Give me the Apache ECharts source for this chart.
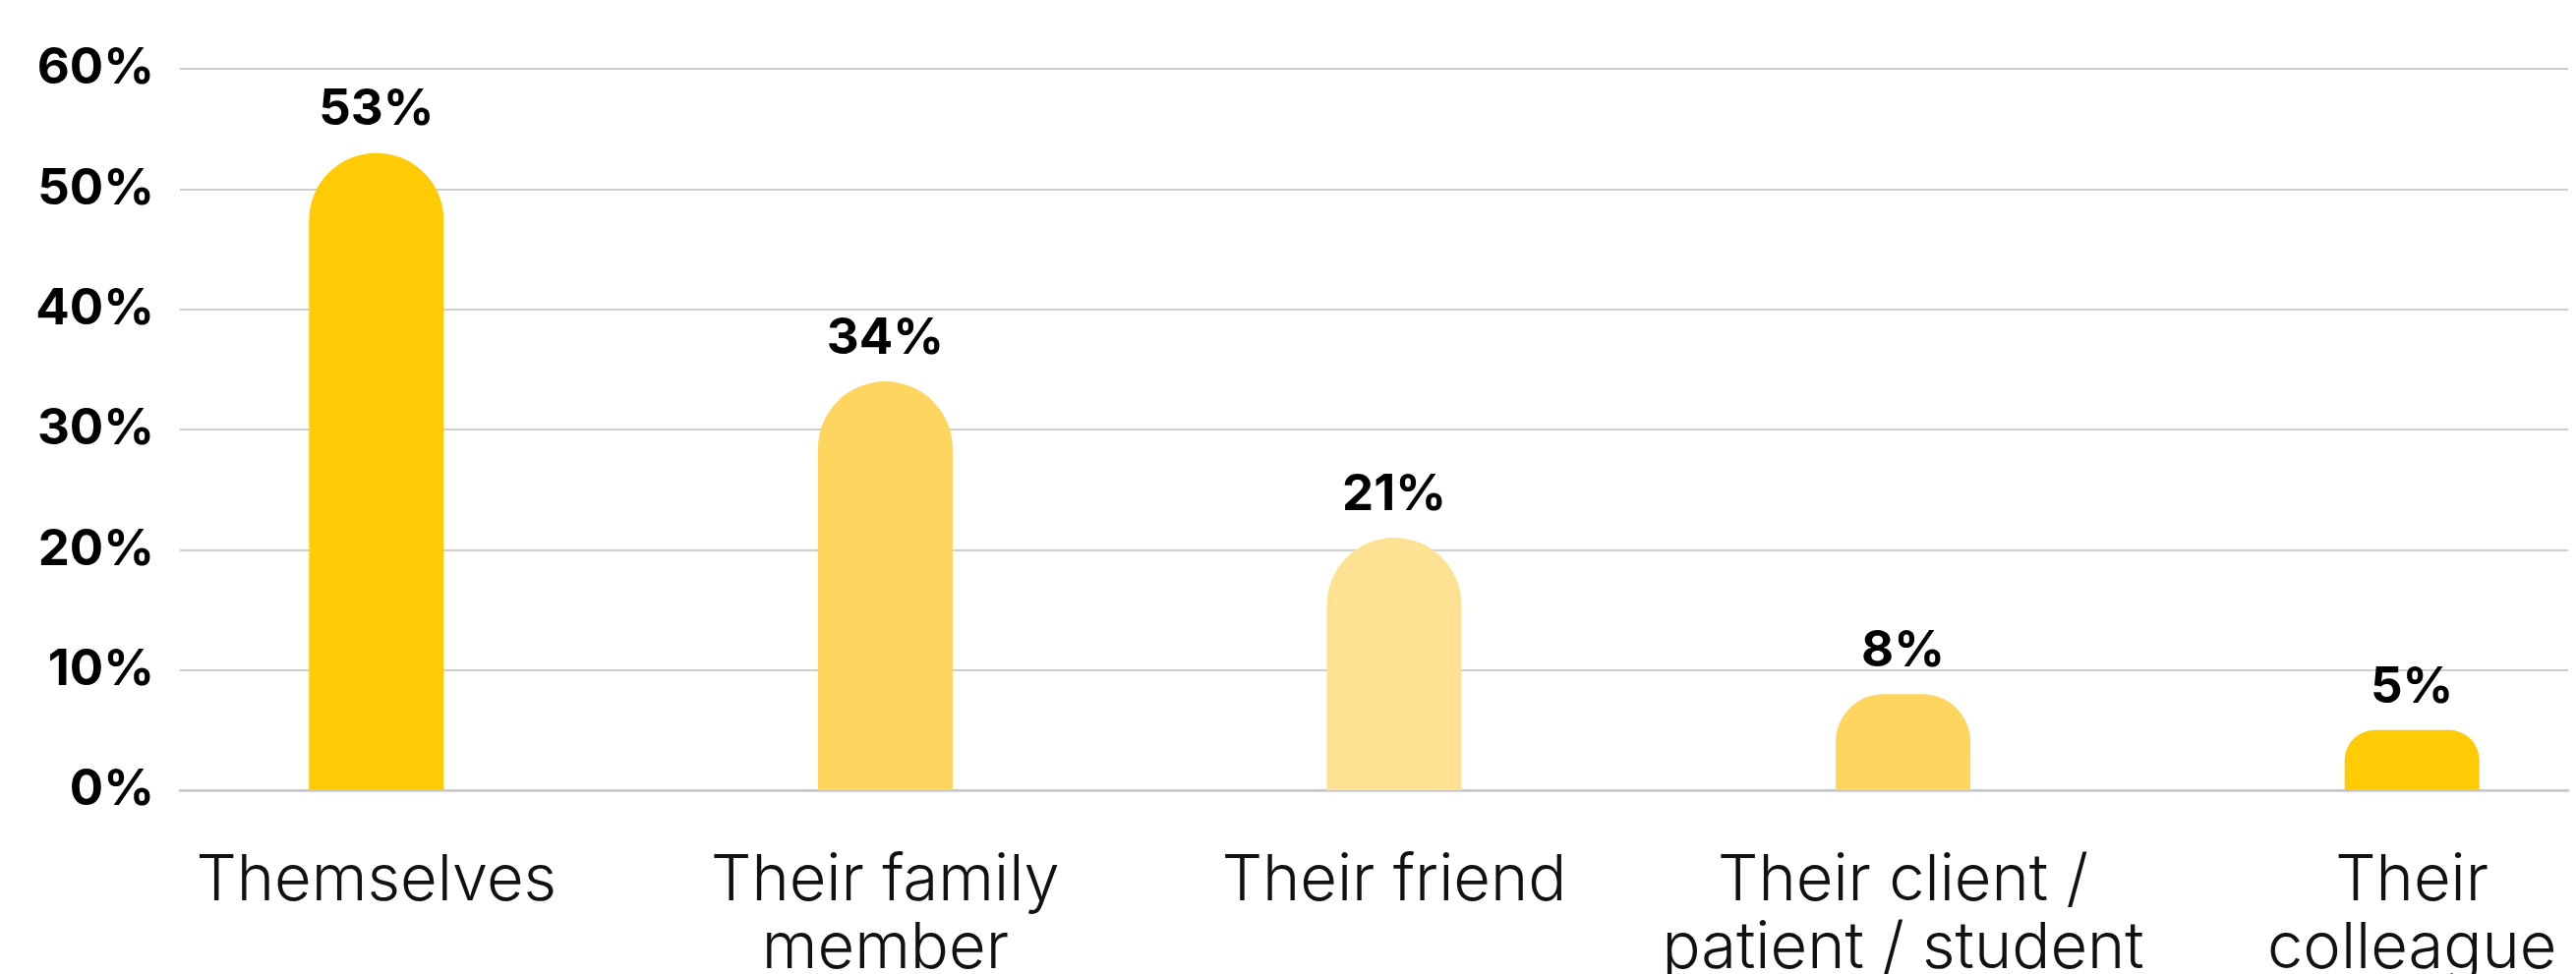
<!DOCTYPE html>
<html>
<head>
<meta charset="utf-8">
<title>Bar chart</title>
<script src="https://cdn.jsdelivr.net/npm/echarts@6/dist/echarts.min.js"></script>
<style>
  html, body { margin: 0; padding: 0; background: #fff; overflow: hidden; }
  /* the category bands run past the right edge of the page, so the canvas does too */
  #chart { width: 2720px; height: 991px; }
</style>
</head>
<body>
<div id="chart"></div>
<script>
const categories = [
  "Themselves",
  "Their family\nmember",
  "Their friend",
  "Their client /\npatient / student",
  "Their\ncolleague",
];
const shares = [53, 34, 21, 8, 5];
const barColors = ["#FFCB05", "#FED55F", "#FFE194", "#FED55F", "#FFCB05"];
const yTicks = [0, 10, 20, 30, 40, 50, 60];

// layout
const CHART_WIDTH = 2720;
const PLOT_TOP = 70;
const PLOT_BOTTOM = 187;
const PLOT_HEIGHT = 991 - PLOT_TOP - PLOT_BOTTOM;
const BAR_WIDTH = 137;
const Y_MAX = yTicks[yTicks.length - 1];
const pxPerUnit = PLOT_HEIGHT / Y_MAX;

const labelFont = "Inter, 'Noto Sans', sans-serif";

function capRadius(value) {
  const r = Math.min(BAR_WIDTH / 2, (value * pxPerUnit) / 2);
  return [r, r, 0, 0];
}

const chart = echarts.init(document.getElementById("chart"), null, { renderer: "canvas" });

chart.setOption({
  animation: false,
  grid: [
    // bars: category bands are wider than the gridlines
    {
      left: 124, width: 2588, top: PLOT_TOP, bottom: PLOT_BOTTOM,
      containLabel: false, outerBoundsMode: "none",
    },
    // gridlines and y labels
    {
      left: 183, right: CHART_WIDTH - 2612, top: PLOT_TOP, bottom: PLOT_BOTTOM,
      containLabel: false, outerBoundsMode: "none",
    },
  ],
  xAxis: [
    {
      type: "category",
      gridIndex: 0,
      data: categories,
      axisLine: { show: false },
      axisTick: { show: false },
      axisLabel: {
        margin: 58,
        interval: 0,
        color: "#111",
        fontFamily: labelFont,
        fontWeight: 300,
        fontSize: 65,
        lineHeight: 69,
      },
    },
    {
      type: "value",
      gridIndex: 1,
      min: 0,
      max: 1,
      axisLine: { show: true, lineStyle: { color: "#C8C8C8", width: 2.5 } },
      axisTick: { show: false },
      axisLabel: { show: false },
      splitLine: { show: false },
    },
  ],
  yAxis: [
    {
      type: "value",
      gridIndex: 0,
      min: 0,
      max: Y_MAX,
      interval: 10,
      axisLine: { show: false },
      axisTick: { show: false },
      axisLabel: { show: false },
      splitLine: { show: false },
    },
    {
      type: "value",
      gridIndex: 1,
      min: 0,
      max: Y_MAX,
      interval: 10,
      axisLine: { show: false },
      axisTick: { show: false },
      splitLine: { show: true, lineStyle: { color: "#BEBEBE", width: 1.5 } },
      axisLabel: {
        margin: 26,
        color: "#000",
        fontFamily: labelFont,
        fontWeight: "bold",
        fontSize: 51,
        formatter: (v) => v + "%",
      },
    },
  ],
  series: [
    {
      type: "bar",
      xAxisIndex: 0,
      yAxisIndex: 0,
      barWidth: BAR_WIDTH,
      data: shares.map((v, i) => ({
        value: v,
        itemStyle: { color: barColors[i], borderRadius: capRadius(v) },
      })),
      label: {
        show: true,
        position: "top",
        distance: 18,
        color: "#000",
        fontFamily: labelFont,
        fontWeight: "bold",
        fontSize: 51,
        formatter: (p) => p.value + "%",
      },
    },
  ],
});
</script>
</body>
</html>
